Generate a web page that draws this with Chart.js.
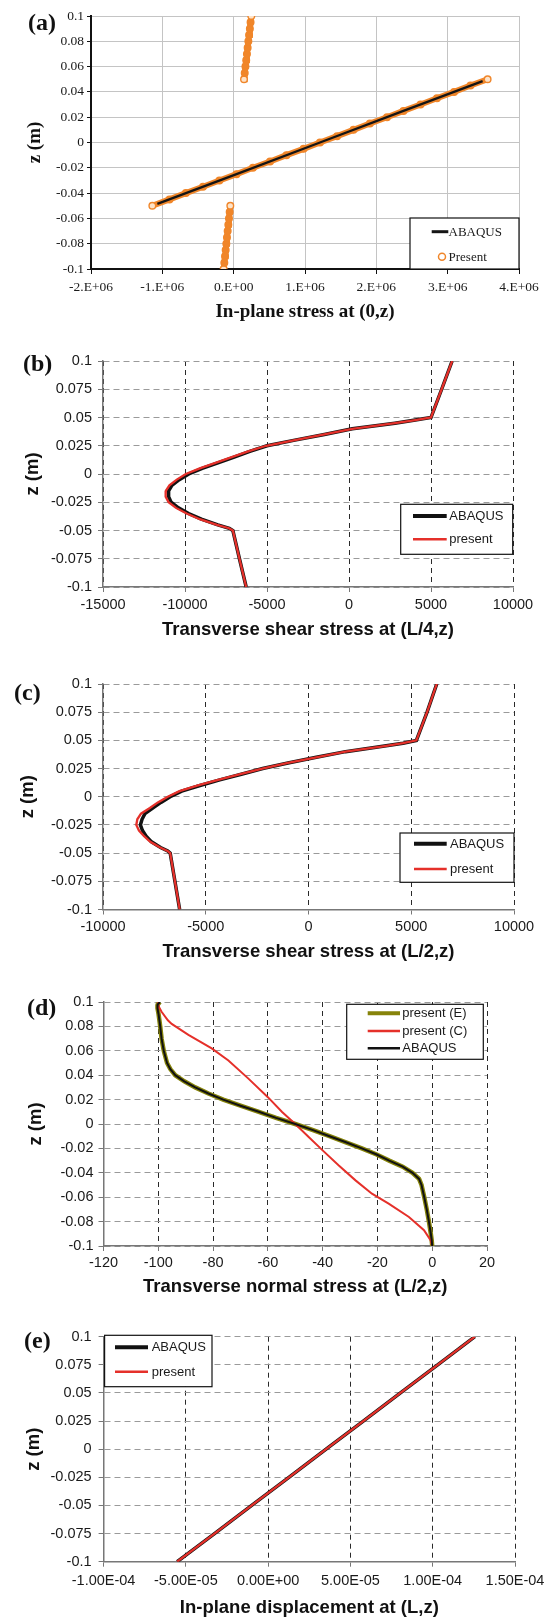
<!DOCTYPE html>
<html>
<head>
<meta charset="utf-8">
<script src="https://cdn.jsdelivr.net/npm/chart.js@4.4.1/dist/chart.umd.min.js"></script>
<style>
    body { margin: 0; background: #fff; width: 544px; height: 1620px; position: relative; overflow: hidden; }
    .panel { position: absolute; left: 0; width: 544px; }
    .panel canvas { display: block; }
    .tag { position: absolute; font: bold 24px "Liberation Serif", serif; line-height: 24px; color: #111; }
</style>
</head>
<body>
<div class="panel" style="top:0px;height:330px"><canvas id="chartA" width="544" height="330"></canvas></div>
<div class="panel" style="top:330px;height:320px"><canvas id="chartB" width="544" height="320"></canvas></div>
<div class="panel" style="top:650px;height:320px"><canvas id="chartC" width="544" height="320"></canvas></div>
<div class="panel" style="top:970px;height:330px"><canvas id="chartD" width="544" height="330"></canvas></div>
<div class="panel" style="top:1300px;height:320px"><canvas id="chartE" width="544" height="320"></canvas></div>
<div class="tag" style="left:28px;top:10px">(a)</div>
<div class="tag" style="left:23px;top:351px">(b)</div>
<div class="tag" style="left:14px;top:680px">(c)</div>
<div class="tag" style="left:27px;top:995px">(d)</div>
<div class="tag" style="left:24px;top:1328px">(e)</div>
<script>
// ---- (a) in-plane stress at (0,z)
const aTopZ = [0.05, 0.055, 0.06, 0.065, 0.07, 0.075, 0.08, 0.085, 0.09, 0.095, 0.1]
const aTopPresent = [0.145e6, 0.155e6, 0.165e6, 0.176e6, 0.186e6, 0.196e6, 0.206e6, 0.216e6, 0.227e6, 0.237e6, 0.247e6]
const aMidZ = [-0.05, -0.045, -0.04, -0.035, -0.03, -0.025, -0.02, -0.015, -0.01, -0.005, 0, 0.005, 0.01, 0.015, 0.02, 0.025, 0.03, 0.035, 0.04, 0.045, 0.05]
const aMidPresent = [-1.14e6, -0.90e6, -0.67e6, -0.43e6, -0.20e6, 0.04e6, 0.27e6, 0.51e6, 0.74e6, 0.98e6, 1.21e6, 1.45e6, 1.68e6, 1.91e6, 2.15e6, 2.38e6, 2.62e6, 2.85e6, 3.09e6, 3.32e6, 3.56e6]
const aBotZ = [-0.1, -0.095, -0.09, -0.085, -0.08, -0.075, -0.07, -0.065, -0.06, -0.055, -0.05]
const aBotPresent = [-0.140e6, -0.131e6, -0.121e6, -0.112e6, -0.103e6, -0.094e6, -0.084e6, -0.075e6, -0.066e6, -0.056e6, -0.047e6]
const aAbaqusZ = [-0.0485, -0.025, 0, 0.025, 0.0485]
const aAbaqus = [-1.07e6, 0.04e6, 1.21e6, 2.38e6, 3.49e6]
const aXTicks = [-2e6, -1e6, 0, 1e6, 2e6, 3e6, 4e6]
const aXLabels = ["-2.E+06", "-1.E+06", "0.E+00", "1.E+06", "2.E+06", "3.E+06", "4.E+06"]
const aYTicks = [-0.1, -0.08, -0.06, -0.04, -0.02, 0, 0.02, 0.04, 0.06, 0.08, 0.1]
const aYLabels = ["-0.1", "-0.08", "-0.06", "-0.04", "-0.02", "0", "0.02", "0.04", "0.06", "0.08", "0.1"]

// ---- (b) transverse shear stress at (L/4,z)  and (c) at (L/2,z)
const bcZ = [0.1, 0.075, 0.05, 0.0475, 0.045, 0.04, 0.035, 0.03, 0.025, 0.02, 0.015, 0.01, 0.005, 0, -0.005, -0.01, -0.015, -0.02, -0.025, -0.03, -0.035, -0.04, -0.045, -0.048, -0.05, -0.075, -0.1]
const bAbaqus = [6290, 5650, 5000, 3950, 2800, 200, -1500, -3300, -5000, -6050, -7000, -7950, -8950, -9770, -10350, -10800, -11000, -11000, -10850, -10400, -9780, -9000, -8000, -7300, -7080, -6680, -6270]
const bPresent = [6290, 5650, 5000, 3950, 2800, 200, -1500, -3300, -5050, -6150, -7150, -8100, -9100, -9950, -10500, -10950, -11170, -11180, -11000, -10550, -9900, -9100, -8050, -7320, -7080, -6680, -6270]
const cAbaqus = [6240, 5770, 5250, 4600, 3700, 1800, 380, -1000, -2230, -3270, -4320, -5280, -6170, -6730, -7180, -7580, -7960, -8100, -8180, -8080, -7900, -7640, -7200, -6850, -6730, -6500, -6270]
const cPresent = [6240, 5770, 5250, 4600, 3700, 1800, 380, -1000, -2250, -3320, -4400, -5380, -6280, -6850, -7330, -7720, -8150, -8330, -8380, -8250, -8000, -7700, -7220, -6860, -6730, -6500, -6270]
const bXTicks = [-15000, -10000, -5000, 0, 5000, 10000]
const cXTicks = [-10000, -5000, 0, 5000, 10000]
const bcYTicks = [-0.1, -0.075, -0.05, -0.025, 0, 0.025, 0.05, 0.075, 0.1]
const bcYLabels = ["-0.1", "-0.075", "-0.05", "-0.025", "0", "0.025", "0.05", "0.075", "0.1"]

// ---- (d) transverse normal stress at (L/2,z)
const dZ = [0.1, 0.098, 0.095, 0.09, 0.08, 0.07, 0.06, 0.05, 0.045, 0.04, 0.035, 0.03, 0.025, 0.02, 0.015, 0.01, 0.005, 0, -0.005, -0.01, -0.015, -0.02, -0.025, -0.03, -0.035, -0.04, -0.045, -0.05, -0.06, -0.07, -0.08, -0.09, -0.095, -0.1]
const dAbaqus = [-99.4, -100.2, -100.3, -99.9, -99.3, -98.8, -98.0, -96.8, -95.6, -93.8, -90.5, -86.5, -81.7, -76.3, -70.0, -63.3, -57.0, -50.0, -43.5, -37.5, -31.5, -25.7, -20.3, -15.7, -10.8, -7.2, -4.8, -3.9, -2.9, -2.0, -1.2, -0.5, -0.2, 0]
const dPresentE = [-99.4, -100.2, -100.3, -99.9, -99.3, -98.8, -98.0, -96.8, -95.6, -93.8, -90.5, -86.5, -81.7, -76.3, -70.0, -63.3, -57.0, -50.0, -43.5, -37.5, -31.5, -25.7, -20.3, -15.7, -10.8, -7.2, -4.8, -3.9, -2.9, -2.0, -1.2, -0.5, -0.2, 0]
const dCZ = [0.1, 0.097, 0.092, 0.085, 0.082, 0.073, 0.062, 0.052, 0.037, 0.022, 0.0098, 0, -0.0107, -0.0216, -0.034, -0.0462, -0.0571, -0.0653, -0.0762, -0.087, -0.0953, -0.1]
const dPresentC = [-100, -100, -98.8, -96.5, -95.1, -89, -80.5, -74.4, -67, -60, -54.8, -50, -45.1, -40, -34.1, -28, -22, -15.9, -8.5, -3, -0.6, 0]
const dXTicks = [-120, -100, -80, -60, -40, -20, 0, 20]
const dYTicks = [-0.1, -0.08, -0.06, -0.04, -0.02, 0, 0.02, 0.04, 0.06, 0.08, 0.1]
const dYLabels = ["-0.1", "-0.08", "-0.06", "-0.04", "-0.02", "0", "0.02", "0.04", "0.06", "0.08", "0.1"]

// ---- (e) in-plane displacement at (L,z)
const eZ = [-0.1, -0.075, -0.05, -0.025, 0, 0.025, 0.05, 0.075, 0.1]
const eAbaqus = [-55.3e-6, -32.6e-6, -10.0e-6, 12.6e-6, 35.2e-6, 57.8e-6, 80.4e-6, 103.0e-6, 125.6e-6]
const ePresent = [-55.3e-6, -32.6e-6, -10.0e-6, 12.6e-6, 35.2e-6, 57.8e-6, 80.4e-6, 103.0e-6, 125.6e-6]
const eXTicks = [-1e-4, -5e-5, 0, 5e-5, 1e-4, 1.5e-4]
const eXLabels = ["-1.00E-04", "-5.00E-05", "0.00E+00", "5.00E-05", "1.00E-04", "1.50E-04"]

const SANS = '"Liberation Sans", Arial, sans-serif'
const SERIF = '"Liberation Serif", "Times New Roman", serif'
const RED = "#e5302a"
const ORANGE = "#f0862a"
const OLIVE = "#86830a"

function pts(xs, zs) {
    return xs.map(function (x, i) { return { x: x, y: zs[i] } })
}

// legend drawn in a box inside the plot, like the spreadsheet original
const boxLegend = {
    id: "boxLegend",
    afterDatasetsDraw(chart, args, opts) {
        if (!opts || !opts.box) return
        const ctx = chart.ctx
        const b = opts.box
        ctx.save()
        ctx.fillStyle = "#fff"
        ctx.fillRect(b[0], b[1], b[2], b[3])
        ctx.strokeStyle = "#111"
        ctx.lineWidth = 1.2
        ctx.strokeRect(b[0], b[1], b[2], b[3])
        ctx.font = opts.font
        ctx.textBaseline = "middle"
        opts.rows.forEach(function (row) {
            const ds = chart.data.datasets[row.ds]
            if (row.marker) {
                ctx.beginPath()
                ctx.arc((opts.line[0] + opts.line[1]) / 2 + 2, row.y, 3.5, 0, Math.PI * 2)
                ctx.strokeStyle = ORANGE
                ctx.lineWidth = 1.5
                ctx.stroke()
            } else {
                ctx.beginPath()
                ctx.moveTo(opts.line[0], row.y)
                ctx.lineTo(opts.line[1], row.y)
                ctx.strokeStyle = row.color || ds.borderColor
                ctx.lineWidth = row.width || ds.borderWidth
                ctx.stroke()
            }
            ctx.fillStyle = "#1a1a1a"
            ctx.fillText(ds.label, opts.textX, row.y + 0.5)
        })
        ctx.restore()
    }
}
Chart.register(boxLegend)

function fixedTicks(vals) {
    return function (scale) { scale.ticks = vals.map(function (v) { return { value: v } }) }
}

function xAxis(p) {
    return {
        type: "linear", position: "bottom", min: p.min, max: p.max,
        afterBuildTicks: fixedTicks(p.ticks),
        afterFit: function (s) { s.height = p.height; s.paddingLeft = 0; s.paddingRight = 0 },
        ticks: {
            font: { family: p.family, size: p.size }, color: "#1a1a1a", padding: p.pad, maxRotation: 0, autoSkip: false,
            callback: function (v, i) { return p.labels ? p.labels[i] : String(p.ticks[i]) }
        },
        grid: { color: p.gridColor, lineWidth: 1, tickLength: 5, tickColor: p.tickColor, tickBorderDash: [] },
        border: { display: true, color: p.axisColor, width: p.axisWidth, dash: p.dash },
        title: { display: true, text: p.title, font: { family: p.family, size: p.titleSize, weight: "bold" }, color: "#111", padding: 0 }
    }
}

function yAxis(p) {
    return {
        type: "linear", position: "left", min: -0.1, max: 0.1,
        afterBuildTicks: fixedTicks(p.ticks),
        afterFit: function (s) { s.width = p.width; s.paddingTop = 0; s.paddingBottom = 0 },
        ticks: {
            font: { family: p.family, size: p.size }, color: "#1a1a1a", padding: p.pad, autoSkip: false,
            callback: function (v, i) { return p.labels[i] }
        },
        grid: { color: p.gridColor, lineWidth: 1, tickLength: p.tickLength || 5, tickColor: p.tickColor, tickBorderDash: [] },
        border: { display: true, color: p.axisColor, width: p.axisWidth, dash: p.dash },
        title: { display: true, text: "z (m)", font: { family: p.family, size: p.titleSize, weight: "bold" }, color: "#111", padding: 0 }
    }
}

function line(label, xs, zs, color, width, order) {
    return {
        label: label, data: pts(xs, zs), showLine: true, borderColor: color, borderWidth: width,
        pointRadius: 0, pointHoverRadius: 0, tension: 0, order: order
    }
}

// open circles at the ends of the orange band, filled elsewhere so it reads as one band
function endFill(xs) {
    return xs.map(function (x, i) { return (i == 0 || i == xs.length - 1) ? "#fde3c9" : ORANGE })
}

function present(xs, zs, width) {
    return {
        label: "Present", data: pts(xs, zs), showLine: true, borderColor: ORANGE, borderWidth: width,
        pointRadius: 3.3, pointBorderWidth: 1.4, pointBorderColor: ORANGE, pointBackgroundColor: endFill(xs),
        pointHoverRadius: 0, order: 1
    }
}

// (a)
new Chart(document.getElementById("chartA"), {
    type: "scatter",
    data: {
        datasets: [
            line("ABAQUS", aAbaqus, aAbaqusZ, "#151515", 2.2, 0),
            present(aMidPresent, aMidZ, 6),
            present(aTopPresent, aTopZ, 6),
            present(aBotPresent, aBotZ, 6)
        ]
    },
    options: {
        responsive: false, animation: false, events: [],
        layout: { padding: { top: 16, right: 25, left: 23.6, bottom: 6.6 } },
        scales: {
            x: xAxis({ min: -2e6, max: 4e6, ticks: aXTicks, labels: aXLabels, height: 54.4, family: SERIF, size: 13.5, pad: 5,
                gridColor: "#c4c4c4", tickColor: "#111", axisColor: "#111", axisWidth: 2, dash: [], title: "In-plane stress at (0,z)", titleSize: 19 }),
            y: yAxis({ ticks: aYTicks, labels: aYLabels, width: 67.4, family: SERIF, size: 13.5, pad: 3, tickLength: 4,
                gridColor: "#c4c4c4", tickColor: "#111", axisColor: "#111", axisWidth: 2, dash: [], titleSize: 19 })
        },
        plugins: {
            legend: { display: false }, tooltip: { enabled: false },
            boxLegend: {
                box: [410, 218, 109, 51], font: "13px " + SERIF, line: [431.7, 448.3], textX: 448.5,
                rows: [{ ds: 0, y: 231.7, width: 3 }, { ds: 1, y: 256.7, marker: true }]
            }
        }
    }
})

function shearChart(id, abaqus, present, ticks, min, title, layout, legend) {
    new Chart(document.getElementById(id), {
        type: "scatter",
        data: {
            datasets: [
                line("ABAQUS", abaqus, bcZ, "#111", 3.5, 1),
                line("present", present, bcZ, RED, 2.3, 0)
            ]
        },
        options: {
            responsive: false, animation: false, events: [],
            layout: { padding: layout.padding },
            scales: {
                x: xAxis({ min: min, max: 10000, ticks: ticks, height: layout.h, family: SANS, size: 14.5, pad: layout.xpad,
                    gridColor: "#2a2a2a", tickColor: "#777", axisColor: "#777", axisWidth: 1.5, dash: [5, 4], title: title, titleSize: 18.5 }),
                y: yAxis({ ticks: bcYTicks, labels: bcYLabels, width: layout.w, family: SANS, size: 14.5, pad: 6,
                    gridColor: "#9a9a9a", tickColor: "#777", axisColor: "#777", axisWidth: 1.5, dash: [6, 4], titleSize: 18.5 })
            },
            plugins: {
                legend: { display: false }, tooltip: { enabled: false },
                boxLegend: {
                    box: legend.box, font: "13px " + SANS, line: legend.line, textX: legend.textX,
                    rows: [{ ds: 0, y: legend.y[0], width: 4 }, { ds: 1, y: legend.y[1], width: 2.5 }]
                }
            }
        }
    })
}

// (b)
shearChart("chartB", bAbaqus, bPresent, bXTicks, -15000, "Transverse shear stress at (L/4,z)",
    { padding: { top: 31, right: 31, left: 21.9, bottom: 8.9 }, w: 81.1, h: 54.1, xpad: 4 },
    { box: [400.7, 174.3, 112, 50], line: [413, 446.7], textX: 449.3, y: [186, 209.3] })

// (c)
shearChart("chartC", cAbaqus, cPresent, cXTicks, -10000, "Transverse shear stress at (L/2,z)",
    { padding: { top: 34, right: 30, left: 16.9, bottom: 7.2 }, w: 86.1, h: 53.3, xpad: 3.5 },
    { box: [400, 183, 114, 49.3], line: [414, 446.7], textX: 450, y: [193.7, 219] })

// (d)
new Chart(document.getElementById("chartD"), {
    type: "scatter",
    data: {
        datasets: [
            line("present (E)", dPresentE, dZ, OLIVE, 4.5, 2),
            line("present (C)", dPresentC, dCZ, RED, 2, 1),
            line("ABAQUS", dAbaqus, dZ, "#111", 2, 0)
        ]
    },
    options: {
        responsive: false, animation: false, events: [],
        layout: { padding: { top: 32, right: 57, left: 24.9, bottom: 2.2 } },
        scales: {
            x: xAxis({ min: -120, max: 20, ticks: dXTicks, height: 51.8, family: SANS, size: 14.5, pad: 3,
                gridColor: "#2a2a2a", tickColor: "#777", axisColor: "#777", axisWidth: 1.5, dash: [5, 4], title: "Transverse normal stress at (L/2,z)", titleSize: 18.5 }),
            y: yAxis({ ticks: dYTicks, labels: dYLabels, width: 78.6, family: SANS, size: 14.5, pad: 5,
                gridColor: "#9a9a9a", tickColor: "#777", axisColor: "#777", axisWidth: 1.5, dash: [6, 4], titleSize: 18.5 })
        },
        plugins: {
            legend: { display: false }, tooltip: { enabled: false },
            boxLegend: {
                box: [346.7, 34.3, 136.6, 55], font: "13px " + SANS, line: [367.7, 400], textX: 402.3,
                rows: [{ ds: 0, y: 43.3, width: 4 }, { ds: 1, y: 61, width: 2.5 }, { ds: 2, y: 78.3, width: 2.5 }]
            }
        }
    }
})

// (e)
new Chart(document.getElementById("chartE"), {
    type: "scatter",
    data: {
        datasets: [
            line("ABAQUS", eAbaqus, eZ, "#111", 3.5, 1),
            line("present", ePresent, eZ, RED, 2.3, 0)
        ]
    },
    options: {
        responsive: false, animation: false, events: [],
        layout: { padding: { top: 36.7, right: 29, left: 22.9, bottom: 0.9 } },
        scales: {
            x: xAxis({ min: -1e-4, max: 1.5e-4, ticks: eXTicks, labels: eXLabels, height: 57.4, family: SANS, size: 14.5, pad: 6,
                gridColor: "#2a2a2a", tickColor: "#777", axisColor: "#777", axisWidth: 1.5, dash: [5, 4], title: "In-plane displacement at (L,z)", titleSize: 18.5 }),
            y: yAxis({ ticks: bcYTicks, labels: bcYLabels, width: 80.7, family: SANS, size: 14.5, pad: 7,
                gridColor: "#9a9a9a", tickColor: "#777", axisColor: "#777", axisWidth: 1.5, dash: [6, 4], titleSize: 18.5 })
        },
        plugins: {
            legend: { display: false }, tooltip: { enabled: false },
            boxLegend: {
                box: [104.6, 35.3, 107.4, 51.4], font: "13px " + SANS, line: [115, 148], textX: 151.7,
                rows: [{ ds: 0, y: 47.3, width: 4 }, { ds: 1, y: 71.7, width: 2.5 }]
            }
        }
    }
})
</script>
</body>
</html>
